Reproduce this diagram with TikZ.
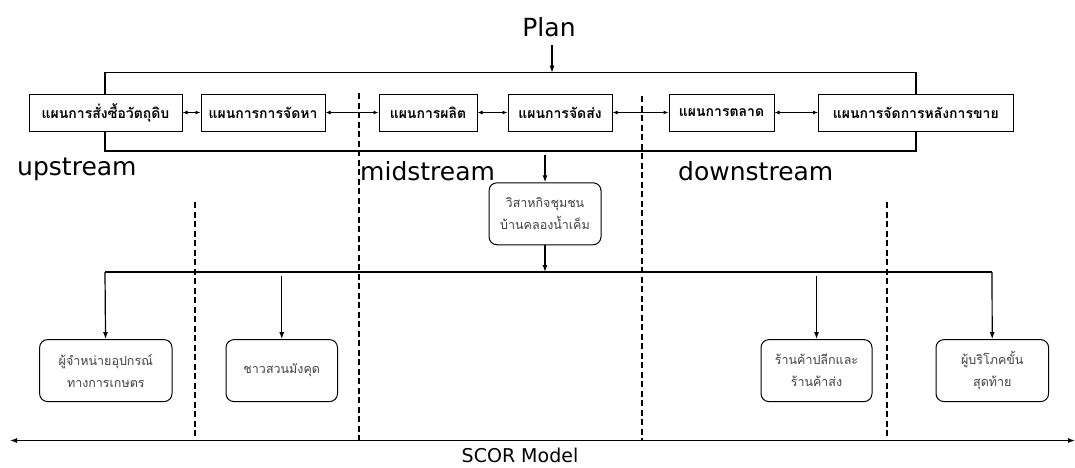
\documentclass[tikz,border=0pt]{standalone}
\usepackage{fontspec}
\setmainfont{DejaVu Sans}
\newfontfamily\thai[Script=Thai]{Loma}
\usetikzlibrary{arrows.meta}

\begin{document}
\begin{tikzpicture}[x=1pt,y=-1pt,
  planbox/.style={draw,line width=1pt,minimum height=37pt,inner sep=0pt,font=\thai\bfseries\fontsize{14}{16}\selectfont},
  actorbox/.style={draw,rounded corners=8pt,line width=1pt,minimum height=62pt,inner sep=0pt,align=center,text=black!75,font=\thai\fontsize{12.5}{22}\selectfont},
  zone/.style={anchor=west,inner sep=0pt,font=\fontsize{25}{30}\selectfont},
  splitline/.style={line width=2pt,dash pattern=on 6pt off 3.5pt},
  link/.style={line width=1pt,{Latex[length=5pt,width=4pt]}-{Latex[length=5pt,width=4pt]}},
  feed/.style={line width=1.2pt,-{Latex[length=7pt,width=5pt]}}]
\useasboundingbox (0,0) rectangle (1075,467);

\node (plan) at (549,27) {\fontsize{25}{30}\selectfont Plan};
\draw [line width=1.2pt] (105,72.7) rectangle (916,151);
\coordinate (plantop) at (552,72.7);
\draw [feed] (552,45) -- (plantop);

% plan boxes
\node [planbox, fill=white, minimum width=153pt] (buy) at (105.5,112.5) {แผนการสั่งซื้อวัตถุดิบ};
\node [planbox, fill=white, minimum width=124pt] (source) at (263,112.5) {แผนการการจัดหา};
\node [planbox, fill=white, minimum width=98pt] (make) at (428,112.5) {แผนการผลิต};
\node [planbox, fill=white, minimum width=104pt] (deliver) at (560,112.5) {แผนการจัดส่ง};
\node [planbox, fill=white, minimum width=105pt] (market) at (721.5,112.5) {แผนการตลาด};
\node [planbox, fill=white, minimum width=194.5pt] (after) at (915.75,112.5) {แผนการจัดการหลังการขาย};
\draw [link] (buy) -- (source);
\draw [link] (source) -- (make);
\draw [link] (make) -- (deliver);
\draw [link] (deliver) -- (market);
\draw [link] (market) -- (after);

% dividers
\draw [splitline] (194.6,202) -- (194.6,437);
\draw [splitline] (359,93) -- (359,440);
\draw [splitline] (642,96) -- (642,440);
\draw [splitline] (887,202) -- (887,437);

\node [zone] (up) at (17,169) {upstream};
\node [zone] (mid) at (360,171) {midstream};
\node [zone] (down) at (678,171.5) {downstream};

% community enterprise
\node [actorbox, minimum width=112pt] (comm) at (545,213.75) {วิสาหกิจชุมชน\\บ้านคลองน้ำเค็ม};
\coordinate (commin) at (545,155);
\coordinate (hub) at (545,272);
\draw [feed] (commin) -- (comm);
\draw [feed] (comm) -- (hub);
\coordinate (busl) at (105,272);
\coordinate (busr) at (992,272);
\draw [line width=1.2pt] (busl) -- (busr);

\node [actorbox, minimum width=132.4pt] (supplier) at (105.8,370.6) {ผู้จำหน่ายอุปกรณ์\\ทางการเกษตร};
\node [actorbox, minimum width=111.5pt] (farmer) at (281.75,370.6) {ชาวสวนมังคุด};
\node [actorbox, minimum width=111pt] (shop) at (816.5,370.6) {ร้านค้าปลีกและ\\ร้านค้าส่ง};
\node [actorbox, minimum width=112.6pt] (consumer) at (992.3,370.6) {ผู้บริโภคขั้น\\สุดท้าย};
\coordinate (tapb) at (281.75,276);
\coordinate (tapc) at (816.5,276);
\draw [feed] (busl) -- (supplier);
\draw [feed] (tapb) -- (farmer);
\draw [feed] (tapc) -- (shop);
\draw [feed] (busr) -- (consumer);

% SCOR axis
\coordinate (axl) at (10,440.5);
\coordinate (axr) at (1075,440.5);
\draw [line width=1.2pt, {Latex[length=7pt,width=5pt]}-{Latex[length=7pt,width=5pt]}] (axl) -- (axr);
\node [anchor=base, inner sep=0pt] (scor) at (520,462) {\fontsize{19}{22}\selectfont SCOR Model};
\end{tikzpicture}
\end{document}
